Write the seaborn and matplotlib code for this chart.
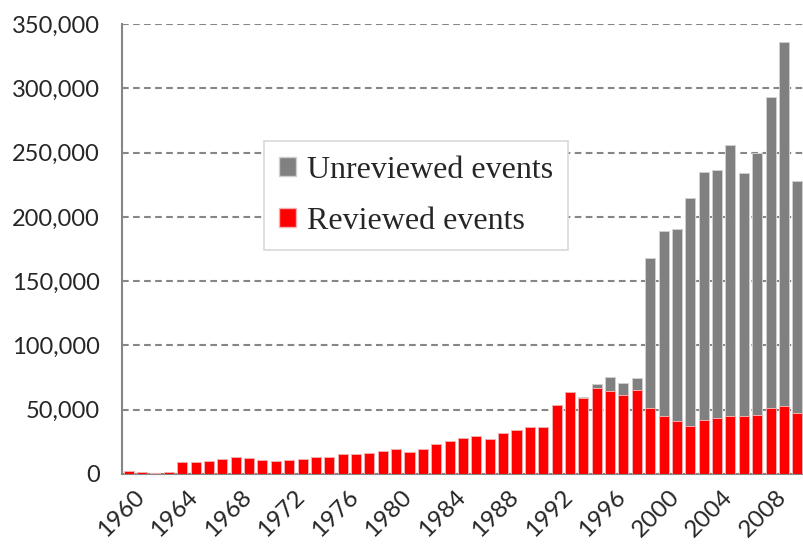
import matplotlib
matplotlib.use('Agg')
import matplotlib.pyplot as plt
import matplotlib.ticker as mticker
import matplotlib.transforms as mtransforms
from matplotlib.patches import Patch
import seaborn as sns
import pandas as pd

years = list(range(1960, 2011))
reviewed = [2300, 1300, 1000, 1500, 9300, 9300, 10100, 11400, 13200, 12400,
            11100, 10400, 11100, 11400, 12900, 12900, 15300, 15300, 16000, 17600,
            19400, 16800, 19700, 23000, 25900, 27700, 29200, 27400, 31800, 34000,
            36500, 36500, 53900, 64000, 58900, 66800, 64800, 61400, 65600, 51100,
            44800, 41100, 37300, 41700, 43200, 45300, 44800, 45800, 51200, 52800, 47400]
unreviewed = [0] * 34 + [1300, 3300, 10800, 9000, 9400, 116900,
                         143900, 149600, 177000, 192800, 193300, 210400, 189200, 204200,
                         241800, 283200, 180300]
label_years = [1960, 1964, 1968, 1972, 1976, 1980, 1984, 1988, 1992, 1996, 2000, 2004, 2008]

df = pd.DataFrame({'year': [str(y) for y in years], 'reviewed': reviewed, 'unreviewed': unreviewed})
df['total'] = df['reviewed'] + df['unreviewed']

sns.set_style('white')
plt.rcParams['font.family'] = ['Lato', 'DejaVu Sans']

grey = '#808080'
red = '#ff0000'
axis_col = '#868686'

fig = plt.figure(figsize=(8.04, 5.44), dpi=100)
ax = fig.add_axes([122 / 804, 70 / 544, 682 / 804, 450 / 544])

sns.barplot(data=df, x='year', y='total', color=grey, saturation=1, width=0.75,
            edgecolor='#cfcfcf', linewidth=0.7, ax=ax, zorder=3)
sns.barplot(data=df, x='year', y='reviewed', color=red, saturation=1, width=0.75,
            edgecolor='#f2b0b0', linewidth=0.7, ax=ax, zorder=4)

ax.set_xlim(-0.5, len(years) - 0.5)
ax.set_ylim(0, 350000)
ax.set_yticks(range(0, 350001, 50000))
ax.yaxis.set_major_formatter(mticker.FuncFormatter(lambda v, p: f'{v:,.0f}'))
ax.yaxis.grid(True, linestyle=(0, (3.2, 2.1)), color=axis_col, linewidth=1.5)
ax.set_axisbelow(True)

pos = [years.index(y) for y in label_years]
ax.set_xticks(pos)
ax.set_xticklabels([str(y) for y in label_years], rotation=45, ha='right',
                   rotation_mode='anchor', fontsize=17.5)
ax.set_xticks([i - 0.5 for i in range(len(years) + 1)], minor=True)
ax.tick_params(axis='x', which='major', length=0, pad=9)
ax.tick_params(axis='x', which='minor', length=6, width=1.2, color=axis_col)
ax.tick_params(axis='y', length=6, width=1.2, color=axis_col, labelsize=17, pad=10)
offset = mtransforms.ScaledTranslation(5 / 100, 0, fig.dpi_scale_trans)
for lab in ax.get_xticklabels():
    lab.set_transform(lab.get_transform() + offset)

ax.set_xlabel('')
ax.set_ylabel('')
sns.despine(ax=ax)
for s in ['left', 'bottom']:
    ax.spines[s].set_color(axis_col)
    ax.spines[s].set_linewidth(1.5)

handles = [Patch(facecolor=grey, edgecolor='#cfcfcf'), Patch(facecolor=red, edgecolor='#f2b0b0')]
leg = ax.legend(handles, ['Unreviewed events', 'Reviewed events'], loc='upper left',
                bbox_to_anchor=(0.185, 0.775), prop={'family': 'Liberation Serif', 'size': 23},
                frameon=True, fancybox=False, edgecolor='#d9d9d9', framealpha=1,
                handlelength=0.55, handleheight=0.55, handletextpad=0.35,
                borderpad=0.45, labelspacing=0.7)
leg.get_frame().set_linewidth(1.2)

fig.savefig('out.png', dpi=100)
plt.close()
